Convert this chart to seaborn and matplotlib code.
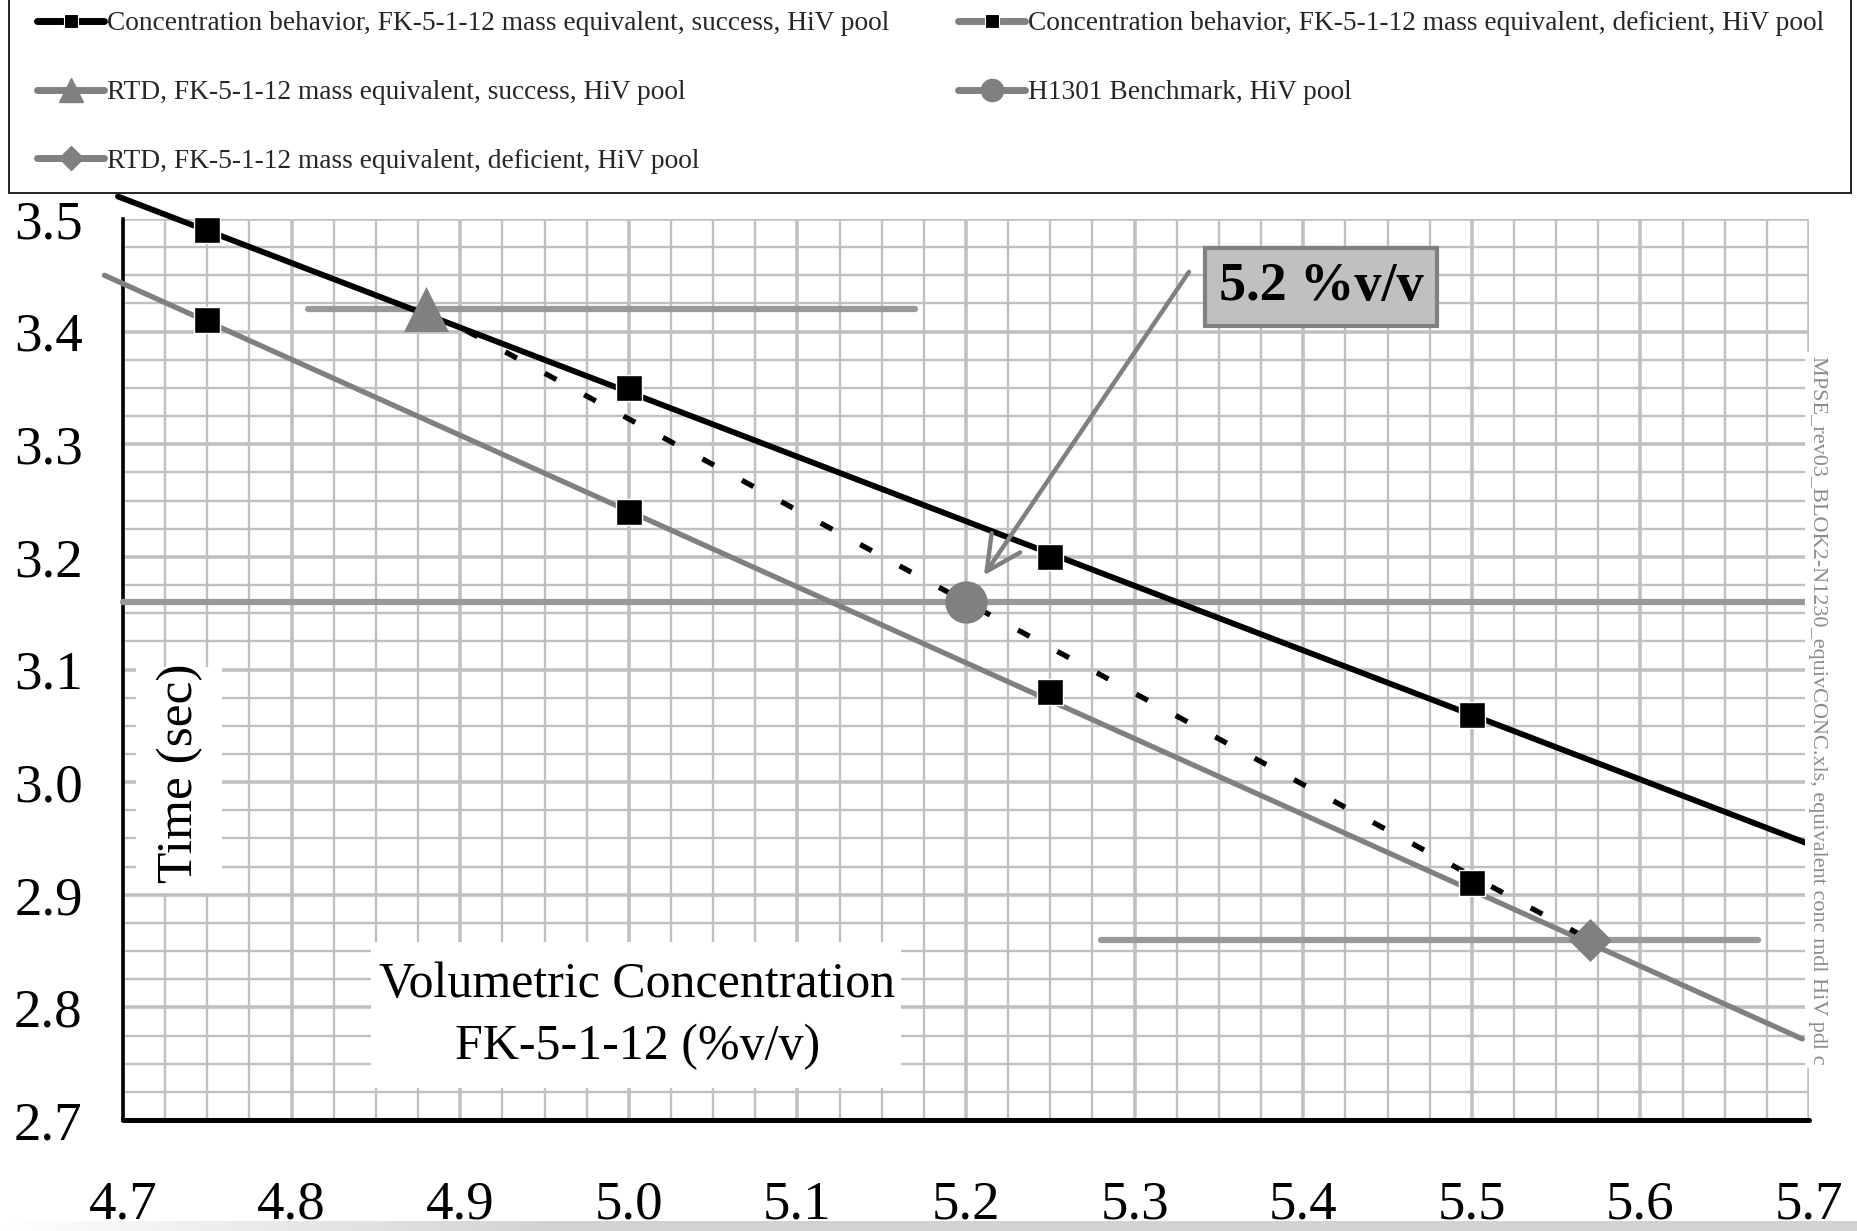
import numpy as np
import matplotlib
matplotlib.use("Agg")
import matplotlib.pyplot as plt
import seaborn as sns
from matplotlib.ticker import MultipleLocator, FixedLocator, FixedFormatter
from matplotlib.lines import Line2D
from matplotlib.patches import Rectangle

# ---------------- data ----------------
conc = [4.75, 5.00, 5.25, 5.50]
time_success = [3.49, 3.35, 3.20, 3.06]
time_deficient = [3.41, 3.24, 3.08, 2.91]

trend_success_x = [4.697, 5.700]
trend_success_y = [3.520, 2.945]
trend_deficient_x = [4.689, 5.696]
trend_deficient_y = [3.450, 2.772]

rtd_success_x = [4.88]
rtd_success_y = [3.42]
rtd_success_span = [4.81, 5.17]

rtd_deficient_x = [5.57]
rtd_deficient_y = [2.86]
rtd_deficient_span = [5.28, 5.67]

bench_x = [5.20]
bench_y = [3.16]
bench_span = [4.70, 5.70]

link_x = [4.88, 5.20, 5.57]
link_y = [3.42, 3.16, 2.86]

x_ticks = [4.7, 4.8, 4.9, 5.0, 5.1, 5.2, 5.3, 5.4, 5.5, 5.6, 5.7]
x_tick_labels = ["4.7", "4.8", "4.9", "5.0", "5.1", "5.2", "5.3", "5.4", "5.5", "5.6", "5.7"]
y_ticks = [2.7, 2.8, 2.9, 3.0, 3.1, 3.2, 3.3, 3.4, 3.5]
y_tick_labels = ["2.7", "2.8", "2.9", "3.0", "3.1", "3.2", "3.3", "3.4", "3.5"]

legend_labels_col1 = [
    "Concentration behavior, FK-5-1-12 mass equivalent, success, HiV pool",
    "RTD, FK-5-1-12 mass equivalent, success, HiV pool",
    "RTD, FK-5-1-12 mass equivalent, deficient, HiV pool",
]
legend_labels_col2 = [
    "Concentration behavior, FK-5-1-12 mass equivalent, deficient, HiV pool",
    "H1301 Benchmark, HiV pool",
]
annotation_text = "5.2 %v/v"
x_label = "Volumetric Concentration\nFK-5-1-12 (%v/v)"
y_label = "Time (sec)"
side_note = "MPSE_rev03_BLOK2-N1230_equivCONC.xls, equivalent conc mdl HiV pdl c"

# ---------------- style ----------------
sns.set_theme(style="white")
plt.rcParams["font.family"] = ["Liberation Serif", "DejaVu Serif"]
plt.rcParams["mathtext.default"] = "regular"

GRID = "#c0c0c0"
GRAY = "#808080"
SPAN = "#999999"
W, H = 1858, 1231

fig = plt.figure(figsize=(18.58, 12.31), dpi=100)
ax = fig.add_axes([123 / W, 1 - 1120 / H, 1686 / W, 901 / H])
ax.set_xlim(4.7, 5.7)
ax.set_ylim(2.7, 3.5)

# grid
ax.xaxis.set_major_locator(FixedLocator(x_ticks))
ax.xaxis.set_major_formatter(FixedFormatter(x_tick_labels))
ax.yaxis.set_major_locator(FixedLocator(y_ticks))
ax.yaxis.set_major_formatter(FixedFormatter(y_tick_labels))
ax.xaxis.set_minor_locator(MultipleLocator(0.025))
ax.yaxis.set_minor_locator(MultipleLocator(0.025))
ax.grid(which="major", color=GRID, lw=2.6, zorder=0)
ax.grid(which="minor", color=GRID, lw=1.7, zorder=0)
ax.set_axisbelow(True)

for s in ["top", "right"]:
    ax.spines[s].set_visible(False)
ax.spines["left"].set_linewidth(2.6)
ax.spines["left"].set_color("black")
ax.spines["bottom"].set_linewidth(3.6)
ax.spines["bottom"].set_color("black")
ax.spines["bottom"].set_capstyle("round")

ax.tick_params(which="major", direction="out", length=13, width=2.8, color="black",
               labelsize=39.5, labelcolor="black")
ax.tick_params(axis="x", which="major", pad=30)
ax.tick_params(axis="y", which="major", pad=16)
ax.tick_params(which="minor", length=0)

# label background boxes (white, over the grid)
ax.add_patch(Rectangle((0.0077, 0.252), 0.051, 0.2508, transform=ax.transAxes,
                       facecolor="white", edgecolor="none", zorder=1))
ax.add_patch(Rectangle((0.1471, 0.0355), 0.3144, 0.162, transform=ax.transAxes,
                       facecolor="white", edgecolor="none", zorder=1))
ax.text(0.0338, 0.385, y_label, transform=ax.transAxes, rotation=90,
        ha="center", va="center", fontsize=37, color="black", zorder=2)
ax.text(0.305, 0.1154, x_label, transform=ax.transAxes, ha="center", va="center",
        fontsize=36, color="black", linespacing=1.45, zorder=2)

# range lines
for span, yv in [(rtd_success_span, rtd_success_y), (rtd_deficient_span, rtd_deficient_y),
                 (bench_span, bench_y)]:
    sns.lineplot(x=span, y=[yv[0]] * len(span), ax=ax, color=SPAN, lw=4.5,
                 solid_capstyle="round", zorder=3, clip_on=False)

# trend lines
sns.lineplot(x=trend_deficient_x, y=trend_deficient_y, ax=ax, color=GRAY, lw=3.8,
             zorder=4, clip_on=False)
sns.lineplot(x=trend_success_x, y=trend_success_y, ax=ax, color="black", lw=4.2,
             zorder=4, clip_on=False)

# dashed link
sns.lineplot(x=link_x, y=link_y, ax=ax, color="black", lw=3.8,
             linestyle=(0, (2.5, 6.0)), zorder=4, clip_on=False)

# markers
sns.scatterplot(x=conc, y=time_success, ax=ax, marker="s", s=340, color="black",
                edgecolor="white", linewidth=1.0, zorder=6, clip_on=False)
sns.scatterplot(x=conc, y=time_deficient, ax=ax, marker="s", s=340, color="black",
                edgecolor="white", linewidth=1.0, zorder=6, clip_on=False)
sns.scatterplot(x=rtd_success_x, y=rtd_success_y, ax=ax, marker="^", s=1050,
                color=GRAY, edgecolor=GRAY, linewidth=0, zorder=6, clip_on=False)
sns.scatterplot(x=rtd_deficient_x, y=rtd_deficient_y, ax=ax, marker="D", s=480,
                color=GRAY, edgecolor=GRAY, linewidth=0, zorder=6, clip_on=False)
sns.scatterplot(x=bench_x, y=bench_y, ax=ax, marker="o", s=930,
                color=GRAY, edgecolor=GRAY, linewidth=0, zorder=6, clip_on=False)

# annotation arrow + box
ax.annotate("", xy=(bench_x[0], bench_y[0]), xytext=(160.5, 237.6),
            textcoords="offset points",
            arrowprops=dict(arrowstyle="->", color=GRAY, lw=3.2, mutation_scale=62,
                            shrinkA=0, shrinkB=23), zorder=5)
ax.annotate(annotation_text, xy=(bench_x[0], bench_y[0]), xytext=(255.6, 227.0),
            textcoords="offset points", ha="center", va="center",
            fontsize=39, fontweight="bold", color="black",
            bbox=dict(boxstyle="square,pad=0.26", facecolor="#c0c0c0",
                      edgecolor=GRAY, lw=3.0), zorder=7)

# side note
fig.text(1818 / W, 1 - 710 / H, side_note, rotation=270, ha="center", va="center",
         fontsize=16, color="#8c8c8c",
         bbox=dict(boxstyle="square,pad=0.15", facecolor="white", edgecolor="none"))

# legend (frame drawn separately, two columns placed explicitly)
fig.add_artist(Rectangle((9 / W, 1 - 193 / H), 1842 / W, 193 / H + 0.01,
                         transform=fig.transFigure, facecolor="white",
                         edgecolor="#222222", lw=1.4, zorder=10, clip_on=False))
h_col1 = [
    Line2D([], [], color="black", lw=5, solid_capstyle="round", marker="s", ms=10,
           mfc="black", mec="white", mew=0.8),
    Line2D([], [], color=GRAY, lw=5, solid_capstyle="round", marker="^", ms=17,
           mfc=GRAY, mec=GRAY),
    Line2D([], [], color=GRAY, lw=5, solid_capstyle="round", marker="D", ms=12,
           mfc=GRAY, mec=GRAY),
]
h_col2 = [
    Line2D([], [], color=GRAY, lw=5, solid_capstyle="round", marker="s", ms=10,
           mfc="black", mec="white", mew=0.8),
    Line2D([], [], color=GRAY, lw=5, solid_capstyle="round", marker="o", ms=16,
           mfc=GRAY, mec=GRAY),
]
leg_kw = dict(loc="upper left", fontsize=19.7, frameon=False, borderpad=0.0,
              labelspacing=1.6, handlelength=2.45, handletextpad=0.12,
              borderaxespad=0.0)
leg1 = fig.legend(h_col1, legend_labels_col1, bbox_to_anchor=(37 / W, 1 - 11 / H), **leg_kw)
leg2 = fig.legend(h_col2, legend_labels_col2, bbox_to_anchor=(958 / W, 1 - 11 / H), **leg_kw)
leg1.set_zorder(11)
leg2.set_zorder(11)

# bottom gradient strip
gax = fig.add_axes([0, 0, 1, 10 / H])
grad = np.clip(np.linspace(0, 1, 512) / 0.3, 0, 1)
gax.imshow(grad[np.newaxis, :], aspect="auto",
           cmap=sns.blend_palette(["#ffffff", "#d2d2d2"], as_cmap=True),
           extent=(0, 1, 0, 1))
gax.set_axis_off()

fig.savefig("out.png", dpi=100)
